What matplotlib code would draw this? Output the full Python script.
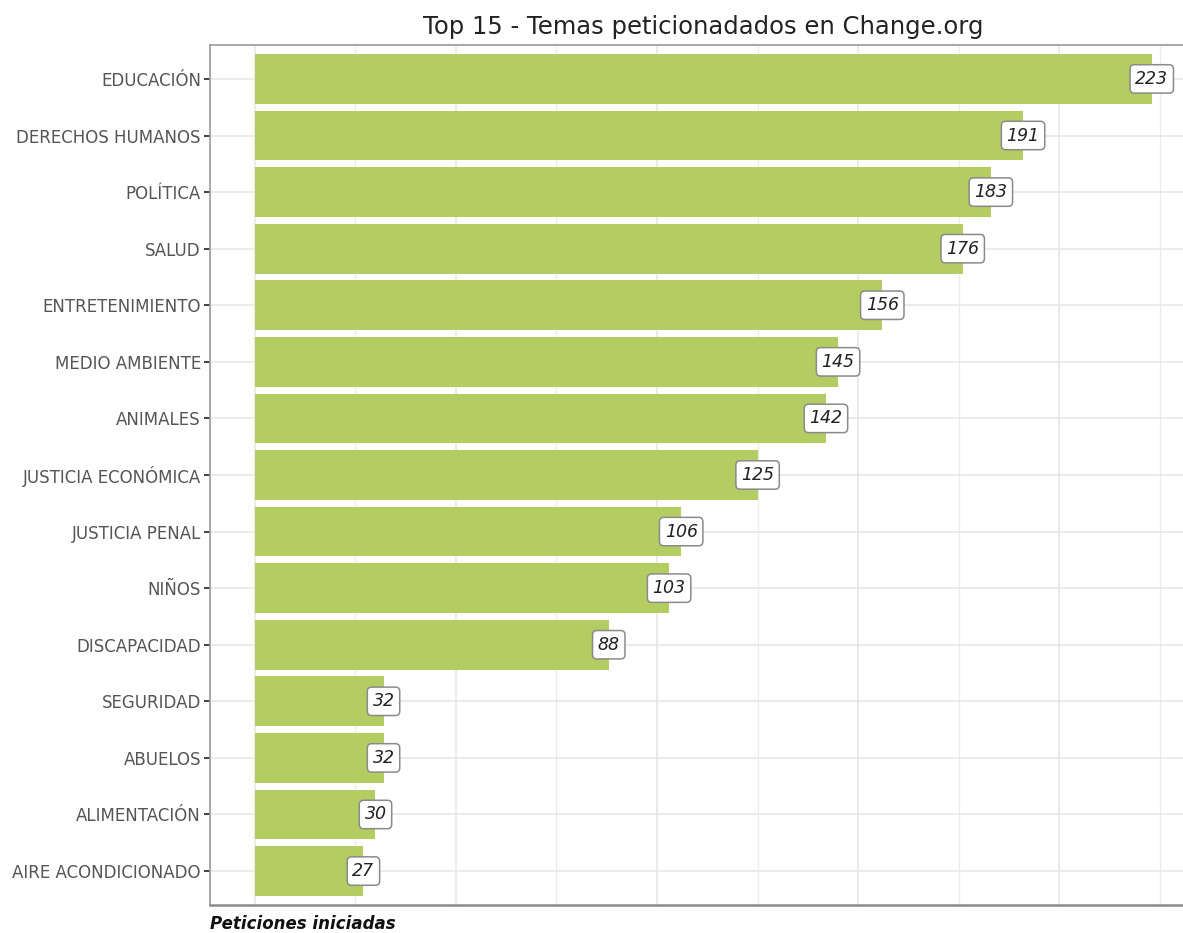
import matplotlib
matplotlib.use("Agg")
import matplotlib.pyplot as plt
from matplotlib.ticker import MultipleLocator

temas = ["EDUCACIÓN", "DERECHOS HUMANOS", "POLÍTICA", "SALUD", "ENTRETENIMIENTO",
         "MEDIO AMBIENTE", "ANIMALES", "JUSTICIA ECONÓMICA", "JUSTICIA PENAL",
         "NIÑOS", "DISCAPACIDAD", "SEGURIDAD", "ABUELOS", "ALIMENTACIÓN",
         "AIRE ACONDICIONADO"]
peticiones = [223, 191, 183, 176, 156, 145, 142, 125, 106, 103, 88, 32, 32, 30, 27]

plt.rcParams['font.family'] = ['DejaVu Sans']

fig = plt.figure(figsize=(11.83, 9.33), dpi=100)
ax = fig.add_axes([0.1775, 0.030, 0.834, 0.9218])

n = len(temas)
ypos = list(range(n - 1, -1, -1))
ax.barh(ypos, peticiones, height=0.88, color="#b3cd62", zorder=2)

for y, v in zip(ypos, peticiones):
    ax.text(v, y, str(v), ha="center", va="center", fontsize=12.5,
            style="italic", color="#222222", zorder=4,
            bbox=dict(boxstyle="round,pad=0.3,rounding_size=0.25",
                      fc="white", ec="#8a8a8a", lw=1.1))

vmax = max(peticiones)
ax.set_xlim(-0.05 * vmax, 1.05 * vmax)
ax.set_ylim(-0.6, n - 1 + 0.6)

ax.set_yticks(ypos)
ax.set_yticklabels(temas, fontsize=12, color="#555555")
ax.xaxis.set_major_locator(MultipleLocator(50))
ax.xaxis.set_minor_locator(MultipleLocator(25))
ax.set_xticklabels([])
ax.tick_params(axis="x", which="both", length=0)
ax.tick_params(axis="y", length=4.5, width=1.3, color="#333333", pad=2)

ax.grid(True, which="major", color="#e6e6e6", lw=1.1, zorder=0)
ax.grid(True, which="minor", axis="x", color="#ececec", lw=0.9, zorder=0)
ax.set_axisbelow(True)

for side in ["left", "top", "right"]:
    ax.spines[side].set_color("#9a9a9a")
    ax.spines[side].set_linewidth(1.2)
ax.spines["bottom"].set_color("#8c8c8c")
ax.spines["bottom"].set_linewidth(1.8)

ax.set_title("Top 15 - Temas peticionadados en Change.org", fontsize=17.5,
             color="#222222", pad=8)

fig.text(0.1775, 0.0, "Peticiones iniciadas", fontsize=12,
         fontweight="bold", style="italic", color="#111111", ha="left", va="bottom")

fig.savefig("out.png", dpi=100, facecolor="white")
